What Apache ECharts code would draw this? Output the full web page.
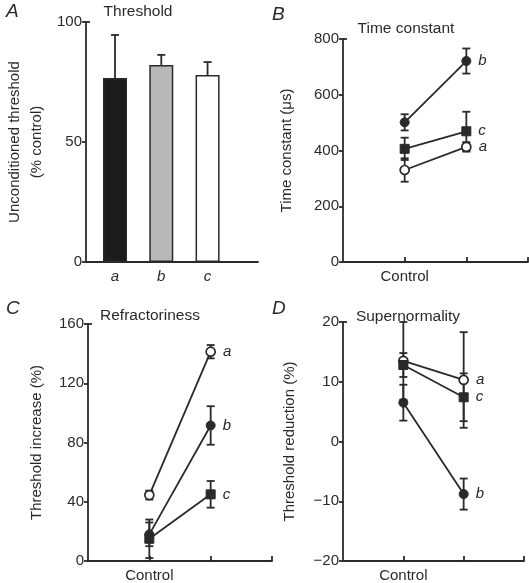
<!DOCTYPE html>
<html><head><meta charset="utf-8">
<script src="https://cdn.jsdelivr.net/npm/echarts@6/dist/echarts.min.js"></script>
<style>html,body{margin:0;padding:0;background:#fff}#c{width:529px;height:583px}</style>
</head><body><div id="c"></div>
<script>
// ---- Data ----
const barCats = ['a', 'b', 'c'];
const barMeans = [76.7, 82.1, 77.9];
const barErr = [17.9, 4.2, 5.4];

const xPos = [1, 2];            // Control, after
const xCatLabel = 'Control';

// B: Time constant (µs)
const tauA = [330, 413], tauAErr = [42, 17];
const tauB = [501, 721], tauBErr = [29, 45];
const tauC = [406, 469], tauCErr = [40, 70];

// C: Refractoriness (%)
const refA = [44.5, 141.3], refAErr = [3, 4.5];
const refB = [18, 91.5],    refBErr = [8, 13];
const refC = [15, 45],      refCErr = [13, 9];

// D: Supernormality (%)
const supA = [13.5, 10.3], supAErr = [6.5, 8];
const supB = [6.5, -8.8],  supBErr = [3, 2.6];
const supC = [12.8, 7.4],  supCErr = [2, 4];

const yTicksA = [0, 100, 50];
const yTicksB = [0, 800, 200];
const yTicksC = [0, 160, 40];
const yTicksD = [-20, 20, 10];

// ---- Styles ----
const INK = '#2a2a2a';
const FONT = 'Liberation Sans';
const FS = 15;
const LW = 1.8;
const chart = echarts.init(document.getElementById('c'));

function yAxis(gi, t, name, gap) {
  return {
    type: 'value', gridIndex: gi, min: t[0], max: t[1], interval: t[2], position: 'left',
    name: name, nameLocation: 'middle', nameGap: gap,
    nameTextStyle: { color: INK, fontSize: FS, fontFamily: FONT, lineHeight: 22 },
    axisLine: { show: true, onZero: false, lineStyle: { color: INK, width: LW } },
    axisTick: { show: true, length: 4, lineStyle: { color: INK, width: LW } },
    axisLabel: { color: INK, fontSize: FS, fontFamily: FONT, margin: 4,
      formatter: v => String(v).replace('-', '\u2212') },
    splitLine: { show: false }
  };
}
function yAxisTop(gi, t) {
  return {
    type: 'value', gridIndex: gi, min: t[0], max: t[1], position: 'left',
    axisLine: { show: false, onZero: false },
    axisTick: { show: true, inside: true, length: 4, customValues: [t[1]], lineStyle: { color: INK, width: LW } },
    axisLabel: { show: false }, splitLine: { show: false }
  };
}
function xAxisLine(gi) {
  return {
    type: 'value', gridIndex: gi, min: 0, max: 3,
    axisLine: { show: true, onZero: false, lineStyle: { color: INK, width: LW } },
    axisTick: { show: true, inside: true, length: 5, customValues: [xPos[0], xPos[1], 3], lineStyle: { color: INK, width: LW } },
    axisLabel: { show: true, customValues: [xPos[0]], formatter: () => xCatLabel,
      color: INK, fontSize: FS, fontFamily: FONT, margin: 7 },
    splitLine: { show: false }
  };
}

function errSeries(xi, yi, pts, upOnly, cap) {
  return {
    type: 'custom', xAxisIndex: xi, yAxisIndex: yi, z: 1, silent: true,
    data: pts,
    renderItem: function (params, api) {
      const x = api.value(0), y = api.value(1), e = api.value(2);
      const top = api.coord([x, y + e]);
      const bot = api.coord([x, upOnly ? y : y - e]);
      const st = { stroke: INK, lineWidth: LW };
      const kids = [
        { type: 'line', shape: { x1: top[0], y1: top[1], x2: bot[0], y2: bot[1] }, style: st },
        { type: 'line', shape: { x1: top[0] - cap, y1: top[1], x2: top[0] + cap, y2: top[1] }, style: st }
      ];
      if (!upOnly) kids.push({ type: 'line', shape: { x1: bot[0] - cap, y1: bot[1], x2: bot[0] + cap, y2: bot[1] }, style: st });
      return { type: 'group', children: kids };
    }
  };
}

const symStyle = {
  a: { symbol: 'circle', symbolSize: 9, itemStyle: { color: '#fff', borderColor: INK, borderWidth: 1.7 } },
  b: { symbol: 'circle', symbolSize: 9, itemStyle: { color: INK, borderColor: INK, borderWidth: 1 } },
  c: { symbol: 'rect', symbolSize: 9, itemStyle: { color: INK, borderColor: INK, borderWidth: 1 } }
};

function lineSeries(xi, yi, name, vals) {
  const s = symStyle[name];
  return {
    type: 'line', name: name, xAxisIndex: xi, yAxisIndex: yi, z: 3,
    symbol: s.symbol, symbolSize: s.symbolSize, itemStyle: s.itemStyle,
    lineStyle: { color: INK, width: LW }, animation: false,
    data: vals.map((v, i) => ({
      value: [xPos[i], v],
      label: i === vals.length - 1 ? { show: true, position: 'right', distance: 7, formatter: name,
        fontStyle: 'italic', fontSize: FS, fontFamily: FONT, color: INK } : { show: false }
    }))
  };
}
function panelSeries(xi, yi, groups) {
  const out = [];
  groups.forEach(g => {
    out.push(errSeries(xi, yi, g.vals.map((v, i) => [xPos[i], v, g.err[i]]), false, 4));
  });
  groups.forEach(g => out.push(lineSeries(xi, yi, g.name, g.vals)));
  return out;
}

const titleStyle = { color: INK, fontSize: 15.5, fontFamily: FONT, fontWeight: 'normal' };
const letterStyle = { color: INK, fontSize: 19, fontFamily: FONT, fontWeight: 'normal', fontStyle: 'italic' };

const barColors = ['#1c1c1c', '#b8b8b8', '#ffffff'];

const option = {
  animation: false,
  backgroundColor: '#fff',
  title: [
    { text: 'A', left: 1, top: -3, textStyle: letterStyle },
    { text: 'B', left: 267, top: 0, textStyle: letterStyle },
    { text: 'C', left: 1, top: 294, textStyle: letterStyle },
    { text: 'D', left: 267, top: 294, textStyle: letterStyle },
    { text: 'Threshold', left: 133, top: -1, textAlign: 'center', textStyle: titleStyle },
    { text: 'Time constant', left: 401, top: 16, textAlign: 'center', textStyle: titleStyle },
    { text: 'Refractoriness', left: 145, top: 303, textAlign: 'center', textStyle: titleStyle },
    { text: 'Supernormality', left: 403, top: 304, textAlign: 'center', textStyle: titleStyle }
  ],
  grid: [
    { left: 86, top: 22, width: 172, height: 240 },
    { left: 343, top: 39, width: 185, height: 223 },
    { left: 88, top: 324, width: 184, height: 240 },
    { left: 343, top: 322, width: 181, height: 239 }
  ],
  xAxis: [
    { type: 'value', gridIndex: 0, min: -0.627, max: 3.09,
      axisLine: { show: true, onZero: false, lineStyle: { color: INK, width: LW } },
      axisTick: { show: false },
      axisLabel: { show: true, customValues: [0, 1, 2], formatter: v => barCats[Math.round(v)],
        color: INK, fontSize: FS, fontFamily: FONT, fontStyle: 'italic', margin: 7 },
      splitLine: { show: false } },
    xAxisLine(1), xAxisLine(2), xAxisLine(3)
  ],
  yAxis: [
    yAxis(0, yTicksA, 'Unconditioned threshold\n(% control)', 38),
    yAxis(1, yTicksB, 'Time constant (\u03bcs)', 45),
    yAxis(2, yTicksC, 'Threshold increase (%)', 40),
    yAxis(3, yTicksD, 'Threshold reduction (%)', 42),
    yAxisTop(0, yTicksA), yAxisTop(1, yTicksB), yAxisTop(2, yTicksC), yAxisTop(3, yTicksD)
  ],
  series: [
    errSeries(0, 0, barMeans.map((v, i) => [i, v, barErr[i]]), true, 4),
    { type: 'bar', xAxisIndex: 0, yAxisIndex: 0, barWidth: 24, z: 2,
      data: barMeans.map((v, i) => ({ value: [i, v],
        itemStyle: { color: barColors[i], borderColor: INK, borderWidth: 1.5 } })) },
    ...panelSeries(1, 1, [
      { name: 'a', vals: tauA, err: tauAErr },
      { name: 'c', vals: tauC, err: tauCErr },
      { name: 'b', vals: tauB, err: tauBErr }]),
    ...panelSeries(2, 2, [
      { name: 'a', vals: refA, err: refAErr },
      { name: 'b', vals: refB, err: refBErr },
      { name: 'c', vals: refC, err: refCErr }]),
    ...panelSeries(3, 3, [
      { name: 'a', vals: supA, err: supAErr },
      { name: 'c', vals: supC, err: supCErr },
      { name: 'b', vals: supB, err: supBErr }])
  ]
};
chart.setOption(option);
</script></body></html>
